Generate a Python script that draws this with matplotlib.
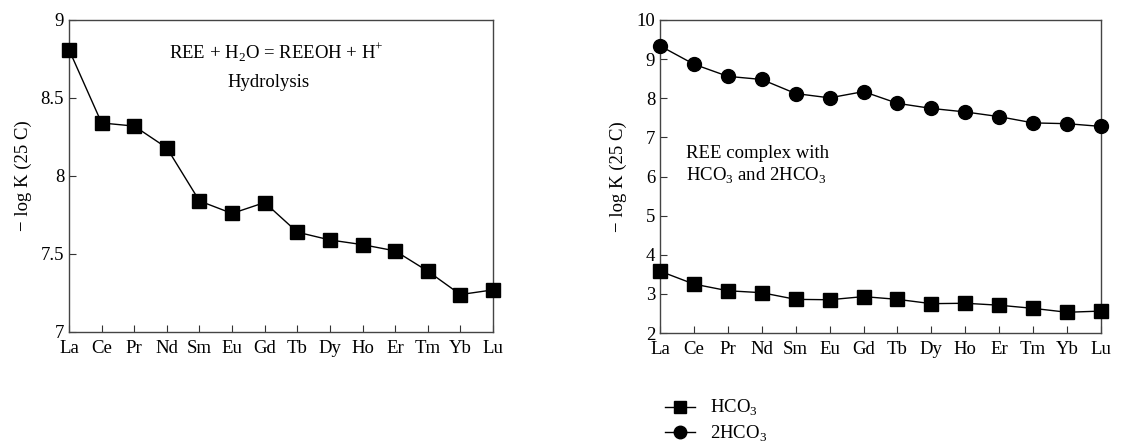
import matplotlib.pyplot as plt
from matplotlib.lines import Line2D

plt.rcParams['font.family'] = ['Liberation Serif', 'DejaVu Serif']
plt.rcParams['mathtext.fontset'] = 'custom'
plt.rcParams['mathtext.rm'] = 'Liberation Serif'

elements = ["La", "Ce", "Pr", "Nd", "Sm", "Eu", "Gd", "Tb", "Dy", "Ho", "Er", "Tm", "Yb", "Lu"]
hydrolysis = [8.81, 8.34, 8.32, 8.18, 7.84, 7.76, 7.83, 7.64, 7.59, 7.56, 7.52, 7.39, 7.24, 7.27]
hco3 = [3.58, 3.25, 3.08, 3.03, 2.86, 2.85, 2.93, 2.86, 2.75, 2.76, 2.71, 2.63, 2.53, 2.56]
hco3_2 = [9.34, 8.87, 8.56, 8.48, 8.12, 8.01, 8.17, 7.87, 7.74, 7.65, 7.53, 7.37, 7.35, 7.28]

x = list(range(len(elements)))

fig = plt.figure(figsize=(11.48, 4.45), dpi=100)
ax1 = fig.add_axes([69 / 1148, 1 - 332 / 445, 424 / 1148, 312 / 445])
ax2 = fig.add_axes([660 / 1148, 1 - 333 / 445, 441 / 1148, 313 / 445])

style = dict(color="black", lw=1, clip_on=False, zorder=3)
ax1.plot(x, hydrolysis, marker="s", ms=10, **style)
ax2.plot(x, hco3, marker="s", ms=10, **style)
ax2.plot(x, hco3_2, marker="o", ms=10, **style)

for ax in (ax1, ax2):
    ax.set_xlim(0, 13)
    ax.set_xticks(x)
    ax.set_xticklabels(elements)
    ax.tick_params(direction="in", length=5, labelsize=13.5, color="#333333")
    ax.tick_params(axis="x", pad=6)
    for s in ax.spines.values():
        s.set_color("#444444")
        s.set_linewidth(1)
    ax.set_ylabel("− log K (25 C)", fontsize=13.5)

ax1.set_ylim(7, 9)
ax1.set_yticks([7, 7.5, 8, 8.5, 9])
ax1.set_yticklabels(["7", "7.5", "8", "8.5", "9"])
ax1.yaxis.set_label_coords(-0.088, 0.5)

ax2.set_ylim(2, 10)
ax2.set_yticks(range(2, 11))
ax2.yaxis.set_label_coords(-0.075, 0.5)

ax1.text(0.49, 0.895, r"REE + H$_2$O = REEOH + H$^{+}$", transform=ax1.transAxes,
         ha="center", va="center", fontsize=13.5)
ax1.text(0.47, 0.80, "Hydrolysis", transform=ax1.transAxes,
         ha="center", va="center", fontsize=13.5)
ax2.text(0.06, 0.535, "REE complex with\nHCO$_3$ and 2HCO$_3$", transform=ax2.transAxes,
         ha="left", va="center", fontsize=13.5, linespacing=1.2)

handles = [
    Line2D([], [], color="black", lw=1, marker="s", ms=9),
    Line2D([], [], color="black", lw=1, marker="o", ms=9),
]
fig.legend(handles, ["HCO$_3$", "2HCO$_3$"], loc="upper left",
           bbox_to_anchor=(652 / 1148, 1 - 385 / 445), frameon=False,
           fontsize=13.5, handlelength=1.6, handletextpad=0.8, labelspacing=0.3,
           borderpad=0.2)

fig.savefig("out.png", dpi=100)
